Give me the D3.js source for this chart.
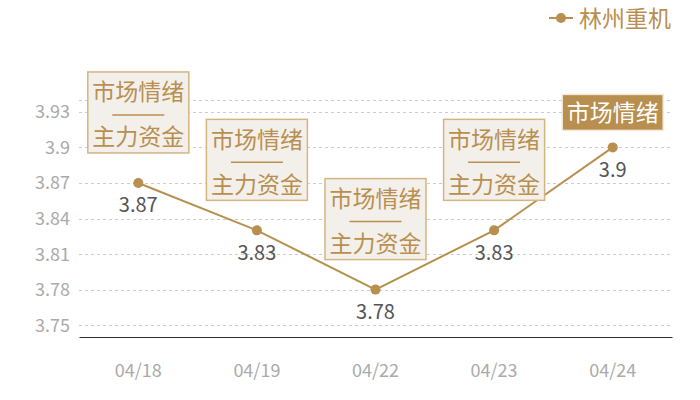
<!DOCTYPE html>
<html>
<head>
<meta charset="utf-8">
<script src="https://cdn.jsdelivr.net/npm/d3@7"></script>
<style>
  body { margin: 0; background: #fff; }
  svg { font-family: "Noto Sans CJK SC", "Noto Sans", sans-serif; }
</style>
</head>
<body>
<div id="chart"></div>
<script>
// chart data
var dates = ["04/18", "04/19", "04/22", "04/23", "04/24"];
var prices = [3.87, 3.83, 3.78, 3.83, 3.9];
var tags = ["both", "both", "both", "both", "mood"];
var yTicks = [3.75, 3.78, 3.81, 3.84, 3.87, 3.9, 3.93];
var seriesName = "林州重机";

var w = 700, h = 400;
var gold = "#b88f4f";

var svg = d3.select("#chart").append("svg")
  .attr("width", w)
  .attr("height", h);

var x = d3.scaleBand()
  .domain(dates)
  .range([79, 672]);

var y = d3.scaleLinear()
  .domain([3.74, 3.94])
  .range([337, 100]);

// grid lines
svg.selectAll(".grid")
  .data(yTicks.concat([3.94]))
  .enter()
  .append("line")
  .attr("x1", 79)
  .attr("x2", 672)
  .attr("y1", function(d) { return Math.round(y(d)) + 0.5; })
  .attr("y2", function(d) { return Math.round(y(d)) + 0.5; })
  .attr("stroke", "#cccccc")
  .attr("stroke-dasharray", "3,3");

// y labels
svg.selectAll(".ylab")
  .data(yTicks)
  .enter()
  .append("text")
  .attr("x", 70)
  .attr("y", function(d) { return y(d); })
  .attr("dy", "0.36em")
  .attr("text-anchor", "end")
  .attr("font-size", 18)
  .attr("fill", "#aaaaaa")
  .text(function(d) { return d; });

// x axis
var xAxis = svg.append("g")
  .attr("transform", "translate(0,337)")
  .call(d3.axisBottom(x).tickSize(0).tickPadding(27));
xAxis.select(".domain").attr("stroke", "#333333").attr("stroke-width", 1.2);
xAxis.selectAll("text")
  .attr("font-size", 18)
  .attr("fill", "#aaaaaa")
  .attr("font-family", "'Noto Sans CJK SC', sans-serif");

// line
var line = d3.line()
  .x(function(d, i) { return x(dates[i]) + x.bandwidth() / 2; })
  .y(function(d) { return y(d); });

svg.append("path")
  .datum(prices)
  .attr("d", line)
  .attr("fill", "none")
  .attr("stroke", gold)
  .attr("stroke-width", 2);

svg.selectAll(".dot")
  .data(prices)
  .enter()
  .append("circle")
  .attr("cx", function(d, i) { return x(dates[i]) + x.bandwidth() / 2; })
  .attr("cy", function(d) { return y(d); })
  .attr("r", 5)
  .attr("fill", gold);

// value labels
svg.selectAll(".val")
  .data(prices)
  .enter()
  .append("text")
  .attr("x", function(d, i) { return x(dates[i]) + x.bandwidth() / 2; })
  .attr("y", function(d) { return y(d) + 22; })
  .attr("dy", "0.36em")
  .attr("text-anchor", "middle")
  .attr("font-size", 20)
  .attr("fill", "#555555")
  .text(function(d) { return d; });

// tag boxes above points
prices.forEach(function(d, i) {
  var cx = x(dates[i]) + x.bandwidth() / 2;
  var g = svg.append("g");
  if (tags[i] == "both") {
    var bottom = y(d) - 30;
    g.append("rect")
      .attr("x", cx - 50.5)
      .attr("y", bottom - 81)
      .attr("width", 101)
      .attr("height", 81)
      .attr("fill", "#f3f0eb")
      .attr("stroke", "#d4b483")
      .attr("stroke-width", 1.5);
    g.append("text")
      .attr("x", cx)
      .attr("y", bottom - 61)
      .attr("dy", "0.36em")
      .attr("text-anchor", "middle")
      .attr("font-size", 23)
      .attr("fill", gold)
      .text("市场情绪");
    g.append("line")
      .attr("x1", cx - 26)
      .attr("x2", cx + 26)
      .attr("y1", bottom - 38)
      .attr("y2", bottom - 38)
      .attr("stroke", gold)
      .attr("stroke-width", 1.5);
    g.append("text")
      .attr("x", cx)
      .attr("y", bottom - 16)
      .attr("dy", "0.36em")
      .attr("text-anchor", "middle")
      .attr("font-size", 23)
      .attr("fill", gold)
      .text("主力资金");
  } else {
    var bottom2 = y(d) - 17;
    g.append("rect")
      .attr("x", cx - 50.5)
      .attr("y", bottom2 - 36)
      .attr("width", 101)
      .attr("height", 36)
      .attr("fill", gold)
      .attr("stroke", "#f3ead9")
      .attr("stroke-width", 1.5);
    g.append("text")
      .attr("x", cx)
      .attr("y", bottom2 - 18)
      .attr("dy", "0.36em")
      .attr("text-anchor", "middle")
      .attr("font-size", 23)
      .attr("fill", "#ffffff")
      .text("市场情绪");
  }
});

// legend
var legend = svg.append("g");
legend.append("line")
  .attr("x1", 549).attr("x2", 573)
  .attr("y1", 18).attr("y2", 18)
  .attr("stroke", gold)
  .attr("stroke-width", 2);
legend.append("circle")
  .attr("cx", 561).attr("cy", 18).attr("r", 5)
  .attr("fill", gold);
legend.append("text")
  .attr("x", 579)
  .attr("y", 19)
  .attr("dy", "0.36em")
  .attr("font-size", 23)
  .attr("fill", gold)
  .text(seriesName);
</script>
</body>
</html>
